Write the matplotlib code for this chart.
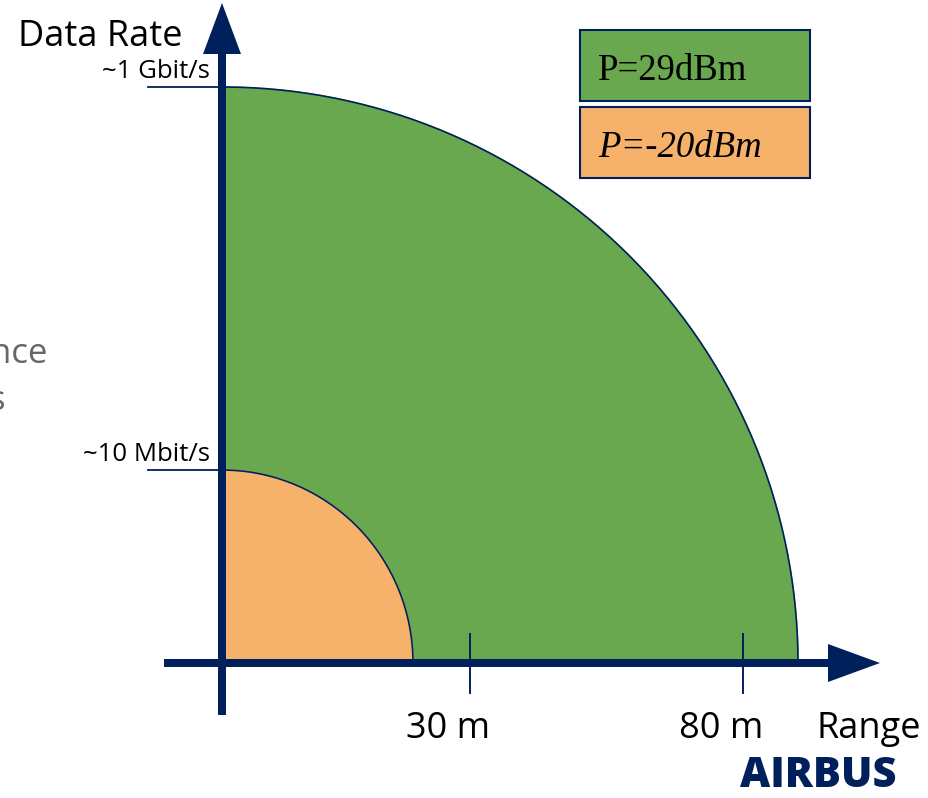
import numpy as np
import matplotlib
matplotlib.use('Agg')
from matplotlib import pyplot as plt
from matplotlib.patches import Rectangle

# schematic data (arbitrary units, origin at the axis crossing)
regions = ['P=29dBm', 'P=-20dBm']
region_colors = ['#6AA84F', '#F6B26B']
range_extent = [576, 191]
rate_extent = [576, 193]
rate_ticks = [576, 193]
rate_labels = ['~1 Gbit/s', '~10 Mbit/s']
range_ticks = [248, 521]
range_labels = ['30 m', '80 m']

navy = '#00205B'
sans = ['Open Sans', 'DejaVu Sans']

fig = plt.figure(figsize=(9.29, 7.98), dpi=100)
ax = fig.add_axes([0, 0, 1, 1])
ax.set_xlim(-222, 707)
ax.set_ylim(-135, 663)
ax.axis('off')

# quarter regions, biggest first
theta = np.linspace(0, np.pi / 2, 200)
for rx, ry, col in zip(range_extent, rate_extent, region_colors):
    xs = np.concatenate([[0], rx * np.cos(theta), [0]])
    ys = np.concatenate([[0], ry * np.sin(theta), [0]])
    ax.fill(xs, ys, color=col, zorder=1)
    ax.plot(rx * np.cos(theta), ry * np.sin(theta), color=navy, lw=1.2, zorder=2)

# axes arrows
ax.arrow(0, -52, 0, 712, width=8, head_width=38, head_length=51,
         length_includes_head=True, color=navy, lw=0, zorder=4)
ax.arrow(-58, 0, 716, 0, width=8, head_width=38, head_length=52,
         length_includes_head=True, color=navy, lw=0, zorder=4)

# y ticks
for yv, lab in zip(rate_ticks, rate_labels):
    ax.plot([-74, 0], [yv, yv], color=navy, lw=1.3, zorder=3)
    ax.text(-12, yv + 9, lab, ha='right', va='baseline', fontsize=18.5,
            family=sans, color='black')

# x ticks (labels sit a little left of their tick)
for xv, lab in zip(range_ticks, range_labels):
    ax.plot([xv, xv], [29, -30], color=navy, lw=1.4, zorder=3)
    ax.text(xv - 22, -75, lab, ha='center', va='baseline', fontsize=26,
            family=sans, color='black')

ax.text(-39, 617, 'Data Rate', ha='right', va='baseline', fontsize=26,
        family=sans, color='black')
ax.text(595, -75, 'Range', ha='left', va='baseline', fontsize=26,
        family=sans, color='black')

# cut-off slide text on the left
ax.text(-174, 300, 'nce', ha='right', va='baseline', fontsize=25,
        family=sans, color='#666666')
ax.text(-217, 253, 's', ha='right', va='baseline', fontsize=25,
        family=sans, color='#666666')

# legend boxes
box_tops = [633, 556]
for top, lab, col, st in zip(box_tops, regions, region_colors, ['normal', 'italic']):
    ax.add_patch(Rectangle((358, top - 71), 230, 71, facecolor=col,
                           edgecolor=navy, lw=1.5, zorder=3))
    ax.text(376, top - 50, lab, ha='left', va='baseline', fontsize=26.5,
            family='Liberation Serif', style=st, color='black', zorder=4)

# logo
ax.text(596, -124, 'AIRBUS', ha='center', va='baseline', fontsize=30,
        family=sans, fontweight='heavy', color=navy)

fig.savefig('out.png', dpi=100)
